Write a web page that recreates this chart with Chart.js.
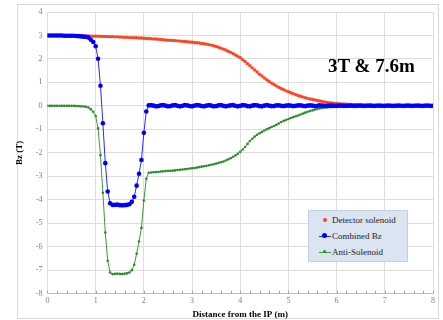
<!DOCTYPE html>
<html lang="en">
<head>
    <meta charset="UTF-8">
    <title>Bz along the beam axis</title>
    <script src="https://cdn.jsdelivr.net/npm/chart.js"></script>
    <style>
        body {
            margin: 0;
            padding: 0;
            background: #ffffff;
        }

        .wrap {
            position: relative;
            width: 443px;
            height: 320px;
        }

        /* Big label in the upper right */
        .tag {
            position: absolute;
            left: 328px;
            top: 55px;
            font-family: 'Liberation Serif', serif;
            font-weight: bold;
            font-size: 19px;
            color: #000;
            white-space: nowrap;
        }

        /* Legend box */
        .legend {
            position: absolute;
            left: 308px;
            top: 210px;
            width: 98px;
            height: 50px;
            background: #dbe5f1;
            border: 1px solid #c3d1e3;
            font-family: 'Liberation Serif', serif;
            font-size: 9px;
            color: #1a1a1a;
        }

        .legend .row {
            position: absolute;
            left: 10px;
            height: 12px;
            line-height: 12px;
            white-space: nowrap;
        }

        .legend .sym {
            position: relative;
            display: inline-block;
            width: 12px;
            height: 12px;
            vertical-align: top;
            margin-right: 1px;
        }

        .legend .ln {
            position: absolute;
            left: 0;
            top: 6px;
            width: 12px;
            height: 1px;
        }

        .legend .dot {
            position: absolute;
            border-radius: 50%;
        }
    </style>
</head>
<body>
<div class="wrap">
    <canvas id="bzChart" width="443" height="320"></canvas>
    <div class="tag">3T &amp; 7.6m</div>
    <div class="legend">
        <div class="row" style="top:3px"><span class="sym"><span class="dot" style="left:4px;top:4px;width:4px;height:4px;background:#ff4422"></span></span>Detector solenoid</div>
        <div class="row" style="top:19px"><span class="sym"><span class="ln" style="background:#2a2aff"></span><span class="dot" style="left:3px;top:3px;width:5px;height:5px;background:#0000ff"></span></span>Combined Bz</div>
        <div class="row" style="top:35px"><span class="sym"><span class="ln" style="background:#3a9a3a"></span><span class="dot" style="left:4px;top:4px;width:3px;height:3px;background:#2e8b2e"></span></span>Anti-Solenoid</div>
    </div>
</div>

<script>
    // distance from the IP (m), one row per metre
    const distance = [
        0, 0.05, 0.1, 0.15, 0.2, 0.25, 0.3, 0.35, 0.4, 0.45, 0.5, 0.55, 0.6, 0.65, 0.7, 0.75, 0.8, 0.85, 0.9, 0.95,
        1, 1.05, 1.1, 1.15, 1.2, 1.25, 1.3, 1.35, 1.4, 1.45, 1.5, 1.55, 1.6, 1.65, 1.7, 1.75, 1.8, 1.85, 1.9, 1.95,
        2, 2.05, 2.1, 2.15, 2.2, 2.25, 2.3, 2.35, 2.4, 2.45, 2.5, 2.55, 2.6, 2.65, 2.7, 2.75, 2.8, 2.85, 2.9, 2.95,
        3, 3.05, 3.1, 3.15, 3.2, 3.25, 3.3, 3.35, 3.4, 3.45, 3.5, 3.55, 3.6, 3.65, 3.7, 3.75, 3.8, 3.85, 3.9, 3.95,
        4, 4.05, 4.1, 4.15, 4.2, 4.25, 4.3, 4.35, 4.4, 4.45, 4.5, 4.55, 4.6, 4.65, 4.7, 4.75, 4.8, 4.85, 4.9, 4.95,
        5, 5.05, 5.1, 5.15, 5.2, 5.25, 5.3, 5.35, 5.4, 5.45, 5.5, 5.55, 5.6, 5.65, 5.7, 5.75, 5.8, 5.85, 5.9, 5.95,
        6, 6.05, 6.1, 6.15, 6.2, 6.25, 6.3, 6.35, 6.4, 6.45, 6.5, 6.55, 6.6, 6.65, 6.7, 6.75, 6.8, 6.85, 6.9, 6.95,
        7, 7.05, 7.1, 7.15, 7.2, 7.25, 7.3, 7.35, 7.4, 7.45, 7.5, 7.55, 7.6, 7.65, 7.7, 7.75, 7.8, 7.85, 7.9, 7.95,
        8
    ];

    // Bz of the detector solenoid alone (T)
    const bzDetector = [
        3.00, 3.00, 3.00, 3.00, 3.00, 3.00, 3.00, 2.99, 2.99, 2.99, 2.99, 2.99, 2.99, 2.98, 2.98, 2.98, 2.98, 2.98, 2.97, 2.97,
        2.97, 2.97, 2.96, 2.96, 2.96, 2.95, 2.95, 2.95, 2.94, 2.94, 2.93, 2.93, 2.92, 2.92, 2.91, 2.91, 2.90, 2.90, 2.89, 2.89,
        2.88, 2.87, 2.87, 2.86, 2.85, 2.85, 2.84, 2.83, 2.82, 2.81, 2.80, 2.79, 2.79, 2.78, 2.77, 2.76, 2.75, 2.74, 2.73, 2.72,
        2.71, 2.70, 2.69, 2.68, 2.66, 2.65, 2.63, 2.61, 2.59, 2.56, 2.53, 2.50, 2.46, 2.42, 2.38, 2.33, 2.28, 2.23, 2.17, 2.11,
        2.05, 1.97, 1.89, 1.80, 1.71, 1.62, 1.53, 1.44, 1.35, 1.27, 1.19, 1.11, 1.04, 0.97, 0.91, 0.85, 0.79, 0.74, 0.69, 0.64,
        0.60, 0.56, 0.52, 0.48, 0.44, 0.41, 0.38, 0.35, 0.32, 0.29, 0.27, 0.25, 0.23, 0.21, 0.19, 0.17, 0.15, 0.14, 0.12, 0.11,
        0.10, 0.09, 0.08, 0.08, 0.07, 0.06, 0.06, 0.05, 0.05, 0.04, 0.04, 0.04, 0.03, 0.03, 0.03, 0.03, 0.02, 0.02, 0.02, 0.02,
        0.02, 0.02, 0.02, 0.01, 0.01, 0.01, 0.01, 0.01, 0.01, 0.01, 0.01, 0.01, 0.01, 0.01, 0.01, 0.01, 0.01, 0.01, 0.01, 0.01,
        0.01
    ];

    // Bz of detector + anti-solenoid (T)
    const bzCombined = [
        3.00, 3.00, 3.00, 3.00, 3.00, 3.00, 3.00, 2.99, 2.99, 2.99, 2.99, 2.99, 2.98, 2.97, 2.96, 2.95, 2.94, 2.91, 2.82, 2.72,
        2.54, 2.01, 0.86, -0.74, -2.44, -3.65, -4.15, -4.22, -4.22, -4.21, -4.23, -4.24, -4.23, -4.22, -4.19, -4.09, -3.87, -3.40, -2.89, -2.31,
        -1.15, -0.24, 0.02, 0.03, 0.01, -0.02, -0.01, 0.02, 0.03, 0.01, -0.02, -0.01, 0.02, 0.03, 0.00, -0.02, 0.00, 0.03, 0.02, -0.01,
        -0.02, 0.01, 0.03, 0.02, -0.01, -0.02, 0.01, 0.03, 0.01, -0.02, -0.01, 0.02, 0.03, 0.00, -0.02, 0.00, 0.02, 0.03, 0.00, -0.02,
        0.00, 0.03, 0.02, -0.01, -0.02, 0.01, 0.03, 0.02, -0.01, -0.02, 0.01, 0.03, 0.01, -0.01, -0.01, 0.02, 0.02, 0.00, -0.01, 0.01,
        0.02, 0.01, -0.01, 0.00, 0.02, 0.02, 0.00, -0.01, 0.01, 0.02, 0.01, -0.01, 0.00, 0.02, 0.01, 0.00, 0.00, 0.01, 0.01, 0.00,
        0.00, 0.01, 0.01, 0.00, 0.00, 0.01, 0.01, 0.00, 0.00, 0.01, 0.01, 0.00, 0.00, 0.01, 0.01, 0.00, 0.00, 0.01, 0.01, 0.00,
        0.00, 0.01, 0.01, 0.00, 0.00, 0.01, 0.01, 0.00, 0.00, 0.01, 0.01, 0.00, 0.00, 0.01, 0.01, 0.00, 0.00, 0.01, 0.01, 0.00,
        0.00
    ];

    // Bz of the anti-solenoid alone (T)
    const bzAnti = [
        0.00, 0.00, 0.00, 0.00, 0.00, 0.00, 0.00, 0.00, 0.00, 0.00, 0.00, 0.00, -0.01, -0.01, -0.02, -0.03, -0.04, -0.07, -0.15, -0.25,
        -0.43, -0.96, -2.10, -3.70, -5.40, -6.60, -7.10, -7.17, -7.16, -7.15, -7.16, -7.17, -7.15, -7.14, -7.10, -7.00, -6.77, -6.30, -5.78, -5.20,
        -4.03, -3.11, -2.85, -2.84, -2.83, -2.82, -2.82, -2.80, -2.79, -2.78, -2.77, -2.77, -2.76, -2.75, -2.73, -2.72, -2.71, -2.70, -2.69, -2.67,
        -2.66, -2.65, -2.63, -2.61, -2.59, -2.57, -2.55, -2.53, -2.51, -2.49, -2.46, -2.43, -2.40, -2.37, -2.33, -2.28, -2.23, -2.17, -2.11, -2.04,
        -1.96, -1.86, -1.75, -1.62, -1.50, -1.40, -1.31, -1.23, -1.17, -1.11, -1.05, -1.00, -0.95, -0.90, -0.86, -0.81, -0.75, -0.69, -0.64, -0.60,
        -0.56, -0.52, -0.48, -0.44, -0.41, -0.37, -0.33, -0.29, -0.25, -0.22, -0.19, -0.16, -0.13, -0.11, -0.09, -0.08, -0.07, -0.06, -0.05, -0.04,
        -0.04, -0.03, -0.03, -0.03, -0.03, -0.02, -0.02, -0.02, -0.02, -0.02, -0.02, -0.01, -0.01, -0.01, -0.01, -0.01, -0.01, -0.01, -0.01, -0.01,
        -0.01, -0.01, -0.01, -0.01, -0.01, -0.01, -0.01, -0.01, -0.01, -0.01, 0.00, 0.00, 0.00, 0.00, 0.00, 0.00, 0.00, 0.00, 0.00, 0.00,
        0.00
    ];

    const xTicks = [0, 1, 2, 3, 4, 5, 6, 7, 8];
    const yTicks = [-8, -7, -6, -5, -4, -3, -2, -1, 0, 1, 2, 3, 4];

    const serif = "'Liberation Serif', 'Times New Roman', serif";

    function points(values) {
        return values.map((v, i) => ({ x: distance[i], y: v }));
    }

    // light frame round the whole chart
    const framePlugin = {
        id: 'frame',
        beforeDraw(chart) {
            const c = chart.ctx;
            c.save();
            c.strokeStyle = '#d9d9d9';
            c.lineWidth = 1;
            c.strokeRect(17.5, 4.5, 421, 314);
            c.restore();
        }
    };

    // small minor ticks on the distance axis, every 0.2 m
    const minorTicks = {
        id: 'minorTicks',
        afterDatasetsDraw(chart) {
            const c = chart.ctx;
            const xs = chart.scales.x;
            const bottom = chart.chartArea.bottom;
            c.save();
            c.strokeStyle = '#a6a6a6';
            c.lineWidth = 1;
            for (let k = 0; k <= 40; k++) {
                const px = Math.round(xs.getPixelForValue(k * 0.2)) + 0.5;
                c.beginPath();
                c.moveTo(px, bottom);
                c.lineTo(px, bottom - 3);
                c.stroke();
            }
            c.restore();
        }
    };

    const ctx = document.getElementById('bzChart').getContext('2d');
    const bzChart = new Chart(ctx, {
        type: 'line',
        data: {
            datasets: [
                {
                    label: 'Detector solenoid',
                    data: points(bzDetector),
                    showLine: false,
                    pointRadius: 1.7,
                    pointBorderWidth: 0,
                    pointBackgroundColor: '#ff4422',
                    borderColor: '#ff4422',
                    order: 3
                },
                {
                    label: 'Combined Bz',
                    data: points(bzCombined),
                    borderColor: '#2a2aff',
                    borderWidth: 1,
                    pointRadius: 2.3,
                    pointBorderWidth: 0,
                    pointBackgroundColor: '#0000ff',
                    tension: 0,
                    order: 1
                },
                {
                    label: 'Anti-Solenoid',
                    data: points(bzAnti),
                    borderColor: '#3a9a3a',
                    borderWidth: 1,
                    pointRadius: 1.3,
                    pointBorderWidth: 0,
                    pointBackgroundColor: '#2e8b2e',
                    tension: 0,
                    order: 2
                }
            ]
        },
        options: {
            responsive: false,
            animation: false,
            layout: { padding: { left: 14, right: 10, top: 12, bottom: 0 } },
            plugins: {
                legend: { display: false },
                tooltip: { enabled: false }
            },
            scales: {
                x: {
                    type: 'linear',
                    min: 0,
                    max: 8,
                    afterBuildTicks: (s) => { s.ticks = xTicks.map(v => ({ value: v })); },
                    ticks: { color: '#808080', font: { family: serif, size: 8 }, padding: 3 },
                    grid: { color: '#dedede', drawTicks: false },
                    border: { color: '#bfbfbf' },
                    title: {
                        display: true,
                        text: 'Distance from the IP (m)',
                        color: '#000',
                        font: { family: serif, size: 9, weight: 'bold' },
                        padding: { top: 0, bottom: 0 }
                    }
                },
                y: {
                    min: -8,
                    max: 4,
                    afterBuildTicks: (s) => { s.ticks = yTicks.map(v => ({ value: v })); },
                    ticks: { color: '#808080', font: { family: serif, size: 8 }, padding: 5 },
                    grid: { color: '#dedede', drawTicks: false },
                    border: { color: '#dedede' },
                    title: {
                        display: true,
                        text: 'Bz (T)',
                        color: '#000',
                        font: { family: serif, size: 9, weight: 'bold' },
                        padding: { top: 0, bottom: 6 }
                    }
                }
            }
        },
        plugins: [framePlugin, minorTicks]
    });
</script>
</body>
</html>
